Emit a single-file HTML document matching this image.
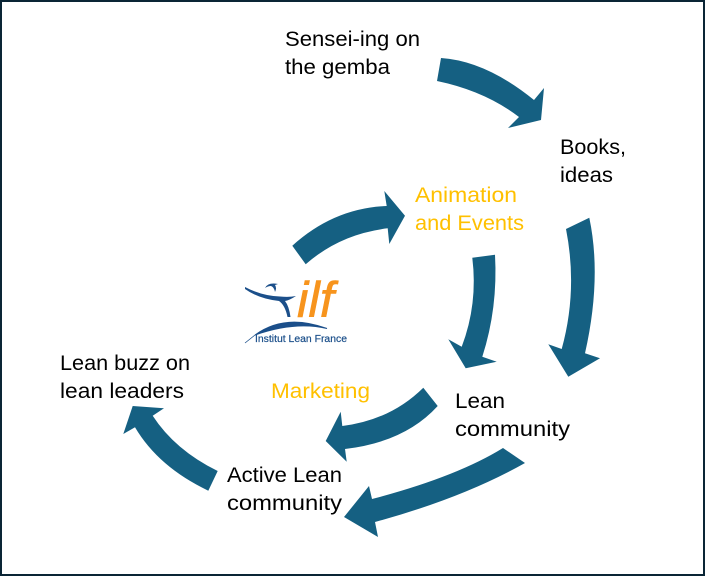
<!DOCTYPE html>
<html>
<head>
<meta charset="utf-8">
<style>
html,body{margin:0;padding:0;background:#fff;width:708px;height:579px;overflow:hidden}
svg{display:block}
text{font-family:"Liberation Sans",sans-serif;font-size:21px;fill:#000}
</style>
</head>
<body>
<svg width="708" height="579" viewBox="0 0 708 579" xmlns="http://www.w3.org/2000/svg">
<rect x="0" y="0" width="705" height="576" fill="#0a2535"/>
<rect x="2" y="2" width="701" height="572" fill="#fff"/>

<g fill="#156082">
<path d="M441 58Q486 61 534 100L544 88L541 120L508 128L519 117Q485 91 437 81Z"/>
<path d="M566 229Q578 290 561.700 349L548.300 344.300L568.300 376.700L600 358.300L585 353.300Q602 278 589.300 217.700Z"/>
<path d="M472.300 257.700Q478 304 461.700 346.700L448.300 339.300L465.700 368.300L496.700 361.700L482.300 356.700Q498 308 495 254.700Z"/>
<path d="M503 448Q456 477 372 499L369 486L344 517L378 537L375 522Q463 498 525 463Z"/>
<path d="M423.300 387.700Q390.600 420 342.300 426L340.700 411.700L325.700 441L346.700 461.700L345 449Q405 442 437.700 406Z"/>
<path d="M217.700 471Q175 450 152.700 415.700L164 408.300L132.700 406L123.300 434L135 427.300Q158.400 467 208.300 490.700Z"/>
<path d="M292.300 245.700Q334 208 386.700 206L384.300 191L405 215.700L389.300 244L387.700 228.300Q340 234 305.700 264.300Z"/>
</g>

<text x="285" y="46" textLength="135" lengthAdjust="spacingAndGlyphs">Sensei-ing on</text>
<text x="285" y="74" textLength="105" lengthAdjust="spacingAndGlyphs">the gemba</text>
<text x="560" y="154" textLength="66" lengthAdjust="spacingAndGlyphs">Books,</text>
<text x="560" y="182" textLength="53" lengthAdjust="spacingAndGlyphs">ideas</text>
<text x="415" y="202" textLength="102" lengthAdjust="spacingAndGlyphs" style="fill:#ffc000">Animation</text>
<text x="415" y="230" textLength="109" lengthAdjust="spacingAndGlyphs" style="fill:#ffc000">and Events</text>
<text x="271" y="398" textLength="99" lengthAdjust="spacingAndGlyphs" style="fill:#ffc000">Marketing</text>
<text x="455" y="408" textLength="50" lengthAdjust="spacingAndGlyphs">Lean</text>
<text x="455" y="436" textLength="115" lengthAdjust="spacingAndGlyphs">community</text>
<text x="60" y="370" textLength="130" lengthAdjust="spacingAndGlyphs">Lean buzz on</text>
<text x="60" y="398" textLength="124" lengthAdjust="spacingAndGlyphs">lean leaders</text>
<text x="227" y="482" textLength="115" lengthAdjust="spacingAndGlyphs">Active Lean</text>
<text x="227" y="510" textLength="115" lengthAdjust="spacingAndGlyphs">community</text>

<g>
<path d="M245 287Q262 296 280 296.500Q289 297.500 296 296Q289 300.500 285 301Q289 306 290.500 317L287.500 317Q285 305 279 301Q259 299 245 289Z" fill="#1b4f8a"/>
<path d="M265 288Q268 282 278 284L275 285Q277 288 275 292Q274 287 271 286Q268 286 265 288Z" fill="#1b4f8a"/>
<path d="M255 335Q285 313 327 328.500Q295 321 255 335Z" fill="#1b4f8a" stroke="#1b4f8a" stroke-width="1"/>
<path d="M245 343L255 335" fill="none" stroke="#1b4f8a" stroke-width="0.800"/>
<text x="297" y="317" textLength="37" lengthAdjust="spacingAndGlyphs" style="font-size:50px;font-style:italic;fill:#f7941d;stroke:#f7941d;stroke-width:.6">ilf</text>
<text x="255" y="342" textLength="92" lengthAdjust="spacingAndGlyphs" style="font-size:10px;fill:#1b4f8a;stroke:#1b4f8a;stroke-width:.2">Institut Lean France</text>
</g>
</svg>
</body>
</html>
